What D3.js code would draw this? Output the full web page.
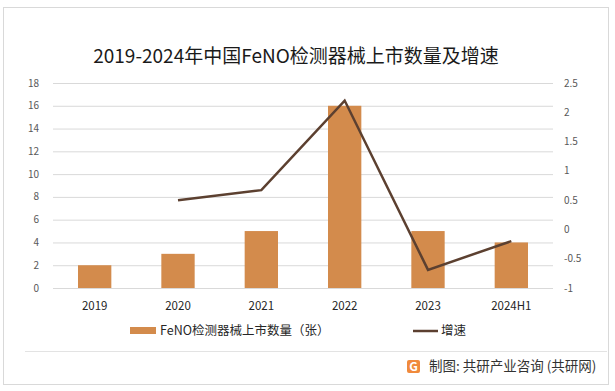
<!DOCTYPE html>
<html>
<head>
<meta charset="utf-8">
<script src="https://cdn.jsdelivr.net/npm/d3@7"></script>
<style>
  body { margin: 0; background: #fff; }
  svg text { font-family: "Noto Sans CJK SC", "Noto Sans", sans-serif; }
</style>
</head>
<body>
<div id="chart"></div>
<script>
// data
const years = ["2019", "2020", "2021", "2022", "2023", "2024H1"];
const counts = [2, 3, 5, 16, 5, 4];
const growth = [null, 0.5, 0.67, 2.2, -0.69, -0.2];
const leftTicks = [0, 2, 4, 6, 8, 10, 12, 14, 16, 18];
const rightTicks = [-1, -0.5, 0, 0.5, 1, 1.5, 2, 2.5];

const W = 615, H = 391;
const margin = {top: 83, right: 62, bottom: 103, left: 53};
const width = W - margin.left - margin.right,
      height = H - margin.top - margin.bottom;

const svg = d3.select("#chart").append("svg")
  .attr("width", W).attr("height", H);

// outer frame
svg.append("rect")
  .attr("x", 3.5).attr("y", 7.5)
  .attr("width", 605).attr("height", 377)
  .attr("fill", "#fff").attr("stroke", "#d9d9d9");

svg.append("text")
  .attr("x", 296).attr("y", 63)
  .attr("text-anchor", "middle")
  .attr("font-size", 19)
  .attr("fill", "#1a1a1a")
  .text("2019-2024年中国FeNO检测器械上市数量及增速");

const g = svg.append("g")
  .attr("transform", "translate(" + margin.left + "," + margin.top + ")");

const x = d3.scaleBand().domain(years).range([0, width]).paddingInner(0.6).paddingOuter(0.3);
const y = d3.scaleLinear().domain([0, 18]).range([height, 0]);
const y2 = d3.scaleLinear().domain([-1, 2.5]).range([height, 0]);

// gridlines
g.selectAll(".grid")
  .data(leftTicks.slice(1))
  .enter().append("line")
  .attr("x1", 0).attr("x2", width)
  .attr("y1", d => y(d) + 0.5).attr("y2", d => y(d) + 0.5)
  .attr("stroke", "#d9d9d9");

// left axis labels
g.selectAll(".ly")
  .data(leftTicks)
  .enter().append("text")
  .attr("x", -14).attr("y", d => y(d))
  .attr("dy", "0.35em")
  .attr("text-anchor", "end")
  .attr("font-size", 10)
  .attr("fill", "#595959")
  .text(d => d);

// right axis labels
g.selectAll(".ry")
  .data(rightTicks)
  .enter().append("text")
  .attr("x", width + 11).attr("y", d => y2(d))
  .attr("dy", "0.35em")
  .attr("font-size", 10)
  .attr("fill", "#595959")
  .text(d => d);

// bars
g.selectAll(".bar")
  .data(years)
  .enter().append("rect")
  .attr("x", d => x(d))
  .attr("width", x.bandwidth())
  .attr("y", (d, i) => y(counts[i]))
  .attr("height", (d, i) => height - y(counts[i]))
  .attr("fill", "#d38b4c");

// baseline
g.append("line")
  .attr("x1", 0).attr("x2", width)
  .attr("y1", height + 0.5).attr("y2", height + 0.5)
  .attr("stroke", "#d9d9d9");

// x labels
g.selectAll(".xl")
  .data(years)
  .enter().append("text")
  .attr("x", d => x(d) + x.bandwidth() / 2)
  .attr("y", height + 22)
  .attr("text-anchor", "middle")
  .attr("font-size", 11.5)
  .attr("fill", "#262626")
  .text(d => d);

// growth line
const pts = years.map((d, i) => ({year: d, v: growth[i]})).filter(d => d.v !== null);
const line = d3.line()
  .x(d => x(d.year) + x.bandwidth() / 2)
  .y(d => y2(d.v));
g.append("path")
  .datum(pts)
  .attr("d", line)
  .attr("fill", "none")
  .attr("stroke", "#5c4030")
  .attr("stroke-width", 2.5);

// legend
svg.append("rect")
  .attr("x", 130).attr("y", 327)
  .attr("width", 26).attr("height", 7)
  .attr("fill", "#d38b4c");
svg.append("text")
  .attr("x", 160).attr("y", 335)
  .attr("font-size", 12.5).attr("fill", "#262626")
  .text("FeNO检测器械上市数量（张）");
svg.append("line")
  .attr("x1", 413).attr("x2", 438)
  .attr("y1", 331).attr("y2", 331)
  .attr("stroke", "#5c4030").attr("stroke-width", 2.5);
svg.append("text")
  .attr("x", 441).attr("y", 335)
  .attr("font-size", 12.5).attr("fill", "#262626")
  .text("增速");

// separator + source
svg.append("line")
  .attr("x1", 25).attr("x2", 607)
  .attr("y1", 351.5).attr("y2", 351.5)
  .attr("stroke", "#e3e3e3");

const logo = svg.append("g").attr("transform", "translate(407,360)");
logo.append("rect").attr("width", 13).attr("height", 13).attr("rx", 2)
  .attr("fill", "#f08a3c");
logo.append("text").attr("x", 6.5).attr("y", 11).attr("text-anchor", "middle")
  .attr("font-size", 12).attr("font-weight", "bold").attr("fill", "#fff").text("G");

svg.append("text")
  .attr("x", 429).attr("y", 371)
  .attr("font-size", 13.5).attr("fill", "#333")
  .text("制图: 共研产业咨询 (共研网)");
</script>
</body>
</html>
